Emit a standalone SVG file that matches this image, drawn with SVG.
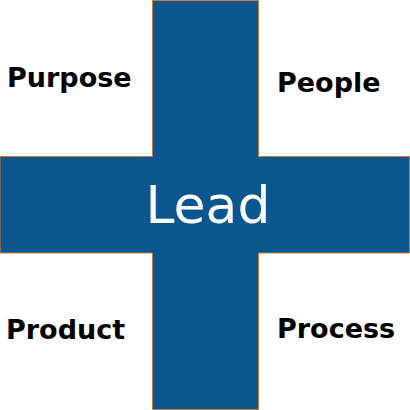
<svg xmlns="http://www.w3.org/2000/svg" width="410" height="410" viewBox="0 0 410 410">
<style>
.lbl{font-family:"DejaVu Sans","Liberation Sans",sans-serif;font-weight:bold;font-size:27px;fill:#000}
.lead{font-family:"DejaVu Sans","Liberation Sans",sans-serif;font-size:52px;fill:#fff}
</style>
<rect width="410" height="410" fill="#fff"/>
<g id="cross">
<path d="M152.5,0.5 H258.5 V156.5 H409.5 V253 H258.5 V409.5 H152.5 V253 H0 V156.5 H152.5 Z" fill="#0b568e" stroke="#c87a3a" stroke-width="1"/>
<text class="lead" x="208" y="223" text-anchor="middle">Lead</text>
</g>
<g id="purpose"><text class="lbl" x="7" y="87">Purpose</text></g>
<g id="people"><text class="lbl" x="277" y="92">People</text></g>
<g id="product"><text class="lbl" x="6" y="339">Product</text></g>
<g id="process"><text class="lbl" x="277" y="338">Process</text></g>
<g id="connectors"/>
</svg>
